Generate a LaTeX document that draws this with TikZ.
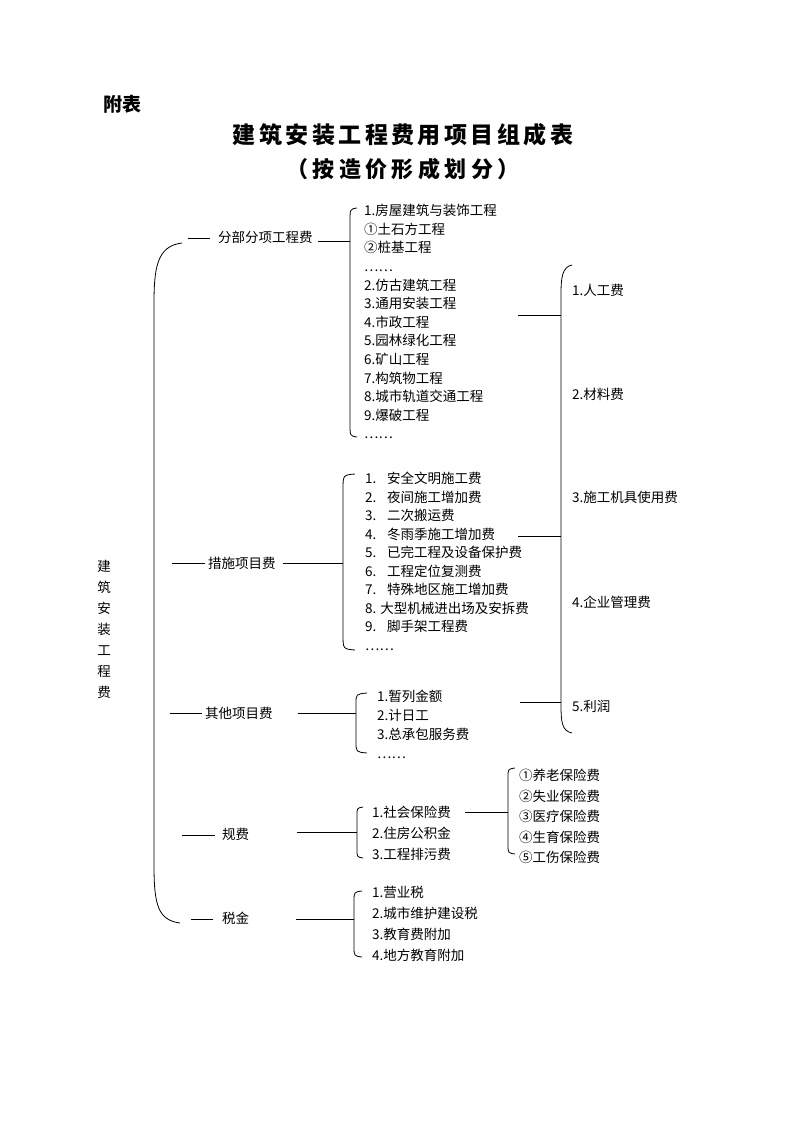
\documentclass[tikz,border=0pt]{standalone}
\usepackage{fontspec}
\setmainfont{Noto Sans CJK SC}
\usetikzlibrary{calc}

\tikzset{
  kuo/.style={line width=0.8pt},
  xian/.style={line width=0.8pt},
  mingcheng/.style={inner sep=0pt, anchor=west},
  liebiao/.style={align=left, anchor=north west, inner sep=0pt},
}

\begin{document}
\begin{tikzpicture}[x=1pt,y=-1pt,font=\fontsize{13.5}{18.6}\selectfont]
\path[use as bounding box, fill=white] (0,0) rectangle (793,1122);

% title
\node[mingcheng, font=\fontsize{19}{19}\selectfont\bfseries] (fubiao) at (103,104) {附表};
\node[inner sep=0pt, font=\fontsize{23}{23}\selectfont\bfseries\addfontfeatures{LetterSpace=15}] (biaoti) at (403,135) {建筑安装工程费用项目组成表};
\node[inner sep=0pt, font=\fontsize{22}{22}\selectfont\bfseries\addfontfeatures{LetterSpace=20}] (fubiaoti) at (403,169) {（按造价形成划分）};

% root, vertical
\node[align=center, inner sep=0pt, font=\fontsize{13.5}{21}\selectfont] (zong) at (104,629) {建\\筑\\安\\装\\工\\程\\费};

% big left brace
\draw[kuo] (182,243) .. controls (156,246) and (154,270) .. (154,305) -- (154,865) .. controls (154,905) and (158,920) .. (180,923);

% level one
\node[mingcheng] (fbfx) at (218,237) {分部分项工程费};
\node[mingcheng] (csxm) at (208,563) {措施项目费};
\node[mingcheng] (qtxm) at (205,713) {其他项目费};
\node[mingcheng] (gf) at (222,834) {规费};
\node[mingcheng] (sj) at (222,918) {税金};

\coordinate (a1) at (188,238);
\coordinate (a2) at (172,563);
\coordinate (a3) at (170,713);
\coordinate (a4) at (182,835);
\coordinate (a5) at (191,919);
\draw[xian] (a1) -- ($(fbfx.west |- a1)+(-8,0)$);
\draw[xian] (a2) -- ($(csxm.west |- a2)+(-3,0)$);
\draw[xian] (a3) -- ($(qtxm.west |- a3)+(-3,0)$);
\draw[xian] (a4) -- ($(gf.west |- a4)+(-7,0)$);
\draw[xian] (a5) -- ($(sj.west |- a5)+(-9,0)$);

% level two braces
\coordinate (b1) at (350,241);
\coordinate (b2) at (343,563);
\coordinate (b3) at (356,713);
\coordinate (b4) at (357,832);
\coordinate (b5) at (354,919);
\draw[kuo] (357,208) .. controls (350,209) .. (350,222) -- (350,423) .. controls (350,436) .. (357,437);
\draw[kuo] (355,474) .. controls (343,475) .. (343,490) -- (343,634) .. controls (343,649) .. (355,650);
\draw[kuo] (367,693) .. controls (356,694) .. (356,704) -- (356,742) .. controls (356,752) .. (367,753);
\draw[kuo] (363,807) .. controls (357,808) .. (357,816) -- (357,849) .. controls (357,857) .. (363,858);
\draw[kuo] (362,891) .. controls (354,892) .. (354,902) -- (354,946) .. controls (354,956) .. (362,957);

\draw[xian] ($(fbfx.east |- b1)+(5,0)$) -- (b1);
\draw[xian] ($(csxm.east |- b2)+(7,0)$) -- (b2);
\draw[xian] ($(qtxm.east |- b3)+(25,0)$) -- (b3);
\draw[xian] ($(gf.east |- b4)+(48,0)$) -- (b4);
\draw[xian] ($(sj.east |- b5)+(47,0)$) -- (b5);

% level two lists
\node[liebiao] (fbfxlist) at (364,204) {1.房屋建筑与装饰工程\\①土石方工程\\②桩基工程\\……\\2.仿古建筑工程\\3.通用安装工程\\4.市政工程\\5.园林绿化工程\\6.矿山工程\\7.构筑物工程\\8.城市轨道交通工程\\9.爆破工程\\……};
\node[liebiao, font=\fontsize{13.5}{18.5}\selectfont] (csxmlist) at (365,472) {1.\hspace{0.8em}安全文明施工费\\2.\hspace{0.8em}夜间施工增加费\\3.\hspace{0.8em}二次搬运费\\4.\hspace{0.8em}冬雨季施工增加费\\5.\hspace{0.8em}已完工程及设备保护费\\6.\hspace{0.8em}工程定位复测费\\7.\hspace{0.8em}特殊地区施工增加费\\8. 大型机械进出场及安拆费\\9.\hspace{0.8em}脚手架工程费\\……};
\node[liebiao, font=\fontsize{13.5}{19}\selectfont] (qtxmlist) at (377,690) {1.暂列金额\\2.计日工\\3.总承包服务费\\……};
\node[liebiao, font=\fontsize{13.5}{21}\selectfont] (gflist) at (372,806) {1.社会保险费\\2.住房公积金\\3.工程排污费};
\node[liebiao, font=\fontsize{13.5}{21}\selectfont] (sjlist) at (372,886) {1.营业税\\2.城市维护建设税\\3.教育费附加\\4.地方教育附加};

% social insurance
\coordinate (b6) at (508,812);
\coordinate (q1) at (465,812);
\draw[kuo] (515,768) .. controls (508,769) .. (508,778) -- (508,844) .. controls (508,853) .. (515,854);
\draw[xian] (q1) -- (b6);
\node[liebiao, font=\fontsize{13.5}{20.5}\selectfont] (shebaolist) at (519,769) {①养老保险费\\②失业保险费\\③医疗保险费\\④生育保险费\\⑤工伤保险费};

% right brace
\coordinate (r1) at (561,315);
\coordinate (r2) at (561,536);
\coordinate (r3) at (561,702);
\coordinate (p1) at (518,315);
\coordinate (p2) at (518,536);
\coordinate (p3) at (520,702);
\draw[kuo] (572,265) .. controls (562,267) and (561,278) .. (561,295) -- (561,705) .. controls (561,722) and (562,731) .. (572,733);
\draw[xian] (p1) -- (r1);
\draw[xian] (p2) -- (r2);
\draw[xian] (p3) -- (r3);

\node[mingcheng] (rgf) at (572,290) {1.人工费};
\node[mingcheng] (clf) at (572,394) {2.材料费};
\node[mingcheng] (jjf) at (572,497) {3.施工机具使用费};
\node[mingcheng] (glf) at (572,602) {4.企业管理费};
\node[mingcheng] (lr) at (572,706) {5.利润};
\end{tikzpicture}
\end{document}
